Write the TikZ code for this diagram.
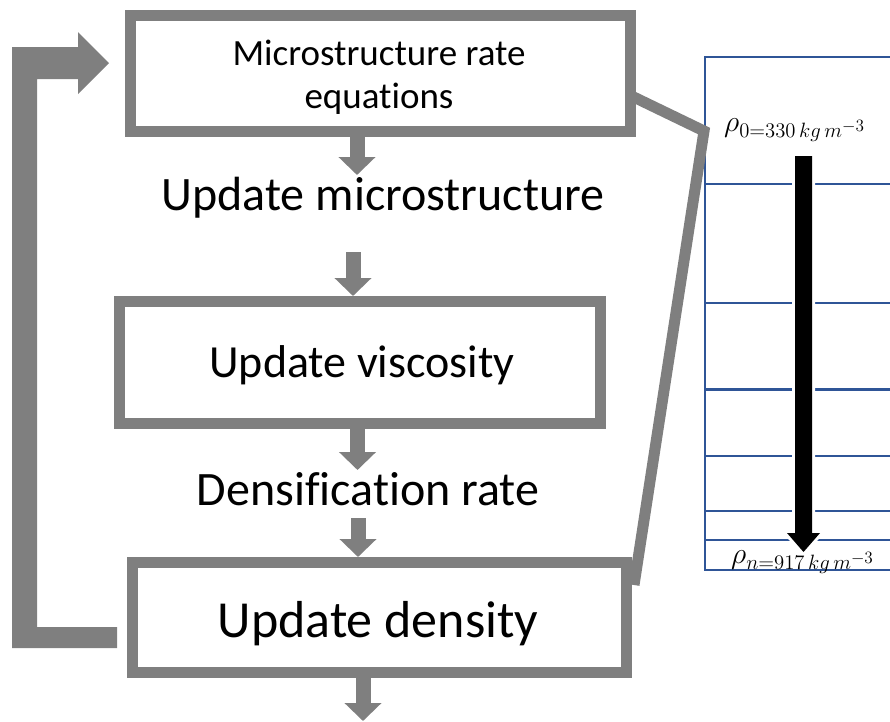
\documentclass[tikz,border=0pt]{standalone}
\usepackage{fontspec}
\setmainfont{Carlito}[Ligatures=CommonOff]
\usepackage{graphicx}
\usetikzlibrary{arrows.meta}
\definecolor{flowgray}{HTML}{7F7F7F}
\definecolor{gridblue}{HTML}{2F5597}
\begin{document}
\begin{tikzpicture}[x=1pt,y=-1pt,
  box/.style={draw=flowgray, line width=11pt, inner sep=0pt},
  flow/.style={draw=flowgray, line width=15pt, -{Triangle[length=18pt,width=36pt]}},
  steptext/.style={font=\fontsize{#1}{43}\selectfont, anchor=base, inner sep=0pt},
  gridline/.style={draw=gridblue, line width=2pt},
  rholabel/.style={anchor=base west, inner sep=0pt, font=\fontsize{20.74}{25}\selectfont},
]
\useasboundingbox (0,0) rectangle (890,721);

% layered grid on the right
\draw[gridline] (892,57) -- (705,57) -- (705,570) -- (892,570);
\foreach \yy in {184,303,456,511,540}
  \draw[gridline] (705,\yy) -- (892,\yy);
\draw[gridline, line width=3pt] (705,389) -- (892,389);

% black downward arrow through the layers
\draw[white, line width=6pt, line join=miter]
  (795,156) -- (812,156) -- (812,533) -- (820,533) -- (803.5,552) -- (787,533) -- (795,533) -- cycle;
\fill[black]
  (795,156) -- (812,156) -- (812,533) -- (820,533) -- (803.5,552) -- (787,533) -- (795,533) -- cycle;

\node[rholabel] (rho0) at (724,131) {\scalebox{1.44}{$\rho_{0=330\,kg\,m^{-3}}$}};
\node[rholabel] (rhon) at (731,563) {\scalebox{1.44}{$\rho_{n=917\,kg\,m^{-3}}$}};

% flow chart boxes
\node[box, minimum width=500pt, minimum height=116.5pt] (rates) at (380,73.25) {};
\node[box, minimum width=481pt, minimum height=122pt] (visc) at (360,362.5) {};
\node[box, minimum width=494pt, minimum height=110pt] (dens) at (379.5,617.5) {};

% step texts
\node[steptext=37, align=center] (ratestext) at (379,108) {Microstructure rate\\equations};
\node[steptext=48] (micro) at (383,210) {Update microstructure};
\node[steptext=46] (visctext) at (362,377) {Update viscosity};
\node[steptext=48] (drate) at (368,505) {Densification rate};
\node[steptext=52] (denstext) at (378,637) {Update density};

% block arrows between the steps
\coordinate (a1e) at (357,175);
\coordinate (a2s) at (353,252);
\coordinate (a2e) at (353,296);
\coordinate (a4s) at (358,518);
\coordinate (a5e) at (363,721);
\draw[flow] (rates.south -| a1e) -- (a1e);
\draw[flow] (a2s) -- (a2e);
\draw[flow] ([xshift=-2.5pt]visc.south) -- ([xshift=-2.5pt]visc.south |- 0,470);
\draw[flow] (a4s) -- (a4s |- dens.north);
\draw[flow] (dens.south -| a5e) -- (a5e);

% zoom lines from the flow chart to the layers
\coordinate (zoomcorner) at (704,131);
\draw[flowgray, line width=11pt, line join=miter]
  ([xshift=-5.5pt,yshift=-22pt]rates.east) -- (zoomcorner) -- ([xshift=2pt,yshift=32.5pt]dens.east);

% feedback loop arrow
\fill[flowgray] (12,648) -- (117,648) -- (117,627) -- (37,627) -- (37,79) -- (78,79)
  -- (78,94) -- (109,63) -- (78,32) -- (78,47) -- (12,47) -- cycle;
\end{tikzpicture}
\end{document}
